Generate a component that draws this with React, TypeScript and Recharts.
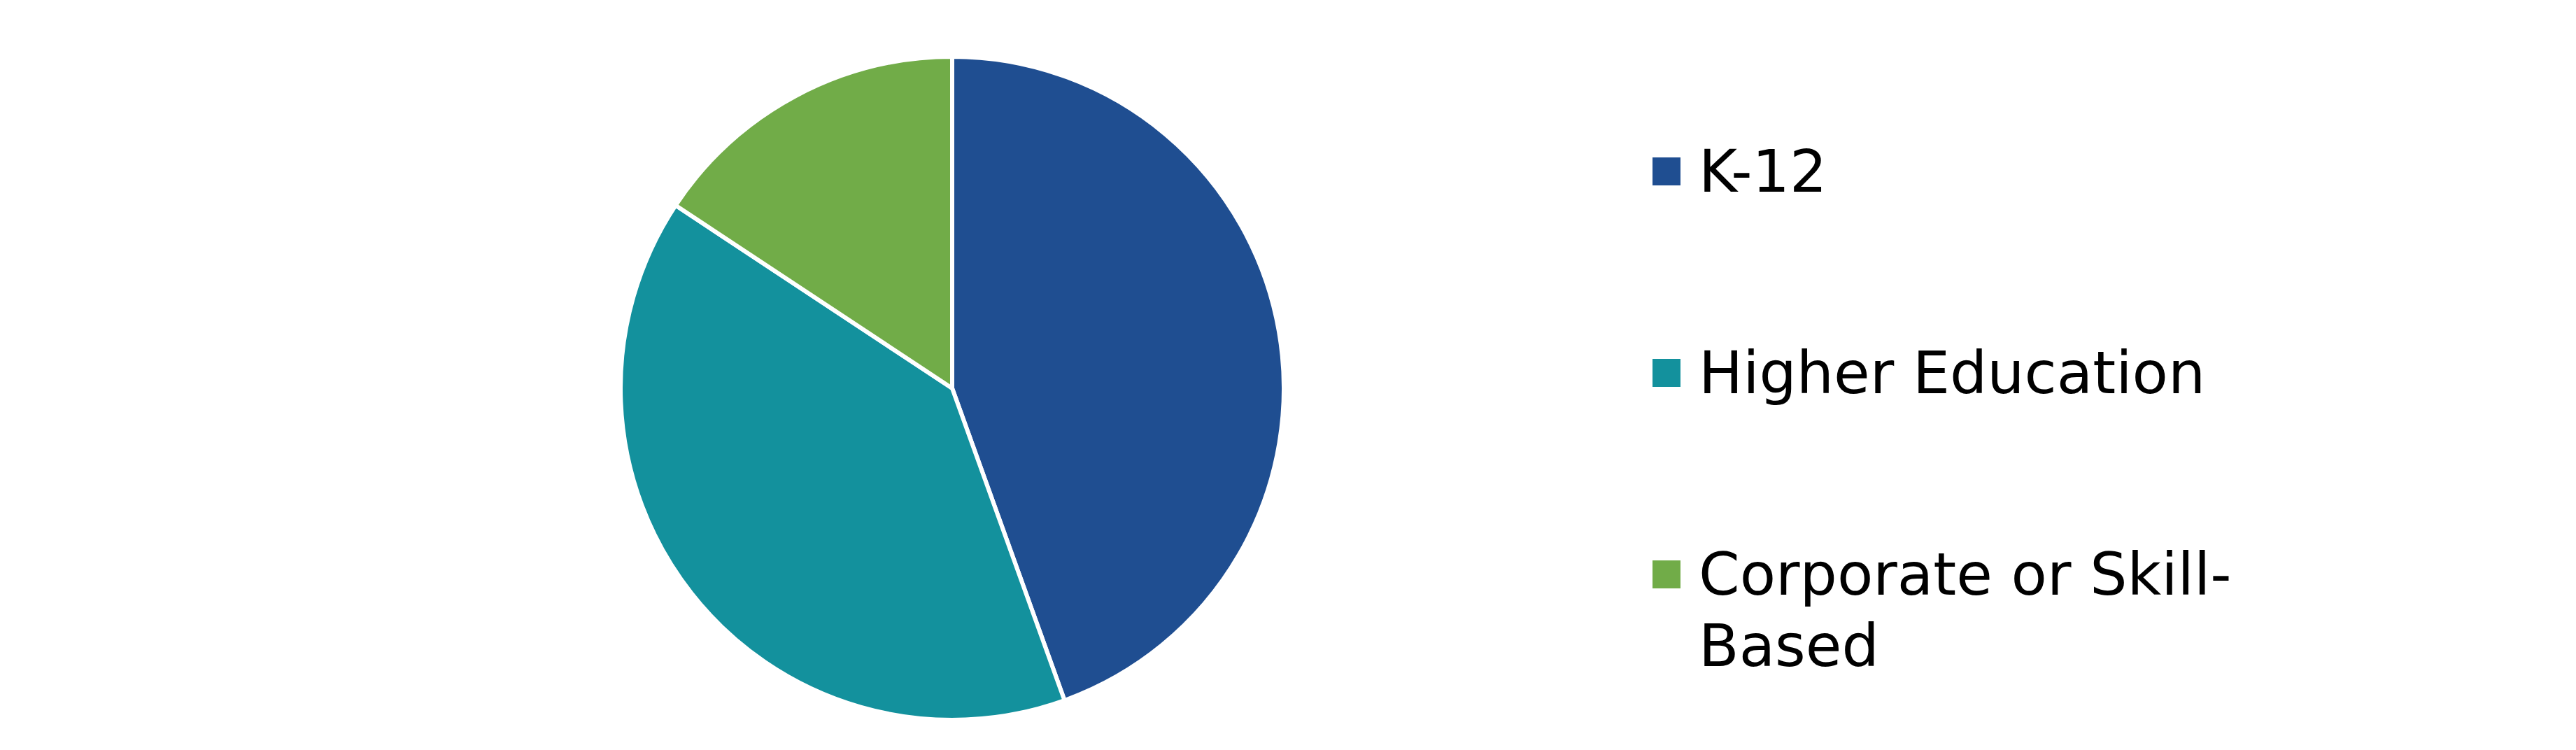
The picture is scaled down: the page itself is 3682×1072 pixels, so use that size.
import React from 'react'
import { PieChart, Pie, Cell, Legend } from 'recharts'

// Segment names and shares (%)
const segments = ['K-12', 'Higher Education', 'Corporate or Skill-Based']
const shares = [44.5, 39.8, 15.7]
const colors = ['#1F4E91', '#13919D', '#71AC48']

const data = segments.map((name, i) => ({ name, value: shares[i] }))

const LegendList = (props: any) => {
    // keep the legend in data order (the default sorter is alphabetical)
    const payload = [...(props.payload || [])].sort(
        (a: any, b: any) => segments.indexOf(a.value) - segments.indexOf(b.value)
    )
    return (
        <div style={{ display: 'flex', flexDirection: 'column' }}>
            {payload.map((entry: any, index: number) => (
                <div
                    key={entry.value}
                    style={{
                        display: 'flex',
                        alignItems: 'flex-start',
                        marginBottom: index < payload.length - 1 ? 186 : 0,
                    }}
                >
                    <span
                        style={{
                            width: 40,
                            height: 40,
                            marginTop: 31,
                            background: entry.color,
                            flex: 'none',
                        }}
                    />
                    <span
                        style={{
                            marginLeft: 26,
                            width: 790,
                            fontFamily: '"DejaVu Sans", Verdana, sans-serif',
                            fontSize: 84,
                            lineHeight: '102px',
                            color: '#000',
                        }}
                    >
                        {entry.value}
                    </span>
                </div>
            ))}
        </div>
    )
}

const App: React.FC = () => {
    return (
        <div style={{ position: 'absolute', left: 0, top: 0, background: '#fff' }}>
            <PieChart width={3682} height={1072} margin={{ top: 0, right: 0, bottom: 0, left: 0 }}>
                <Pie
                    data={data}
                    dataKey="value"
                    nameKey="name"
                    cx={1361}
                    cy={555}
                    outerRadius={474}
                    startAngle={90}
                    endAngle={-270}
                    stroke="#ffffff"
                    strokeWidth={6}
                    isAnimationActive={false}
                >
                    {data.map((d, i) => (
                        <Cell key={d.name} fill={colors[i]} />
                    ))}
                </Pie>
                <Legend
                    layout="vertical"
                    align="right"
                    verticalAlign="top"
                    content={<LegendList />}
                    wrapperStyle={{ left: 2362, top: 194, width: 1000 }}
                />
            </PieChart>
        </div>
    )
}

export default App
